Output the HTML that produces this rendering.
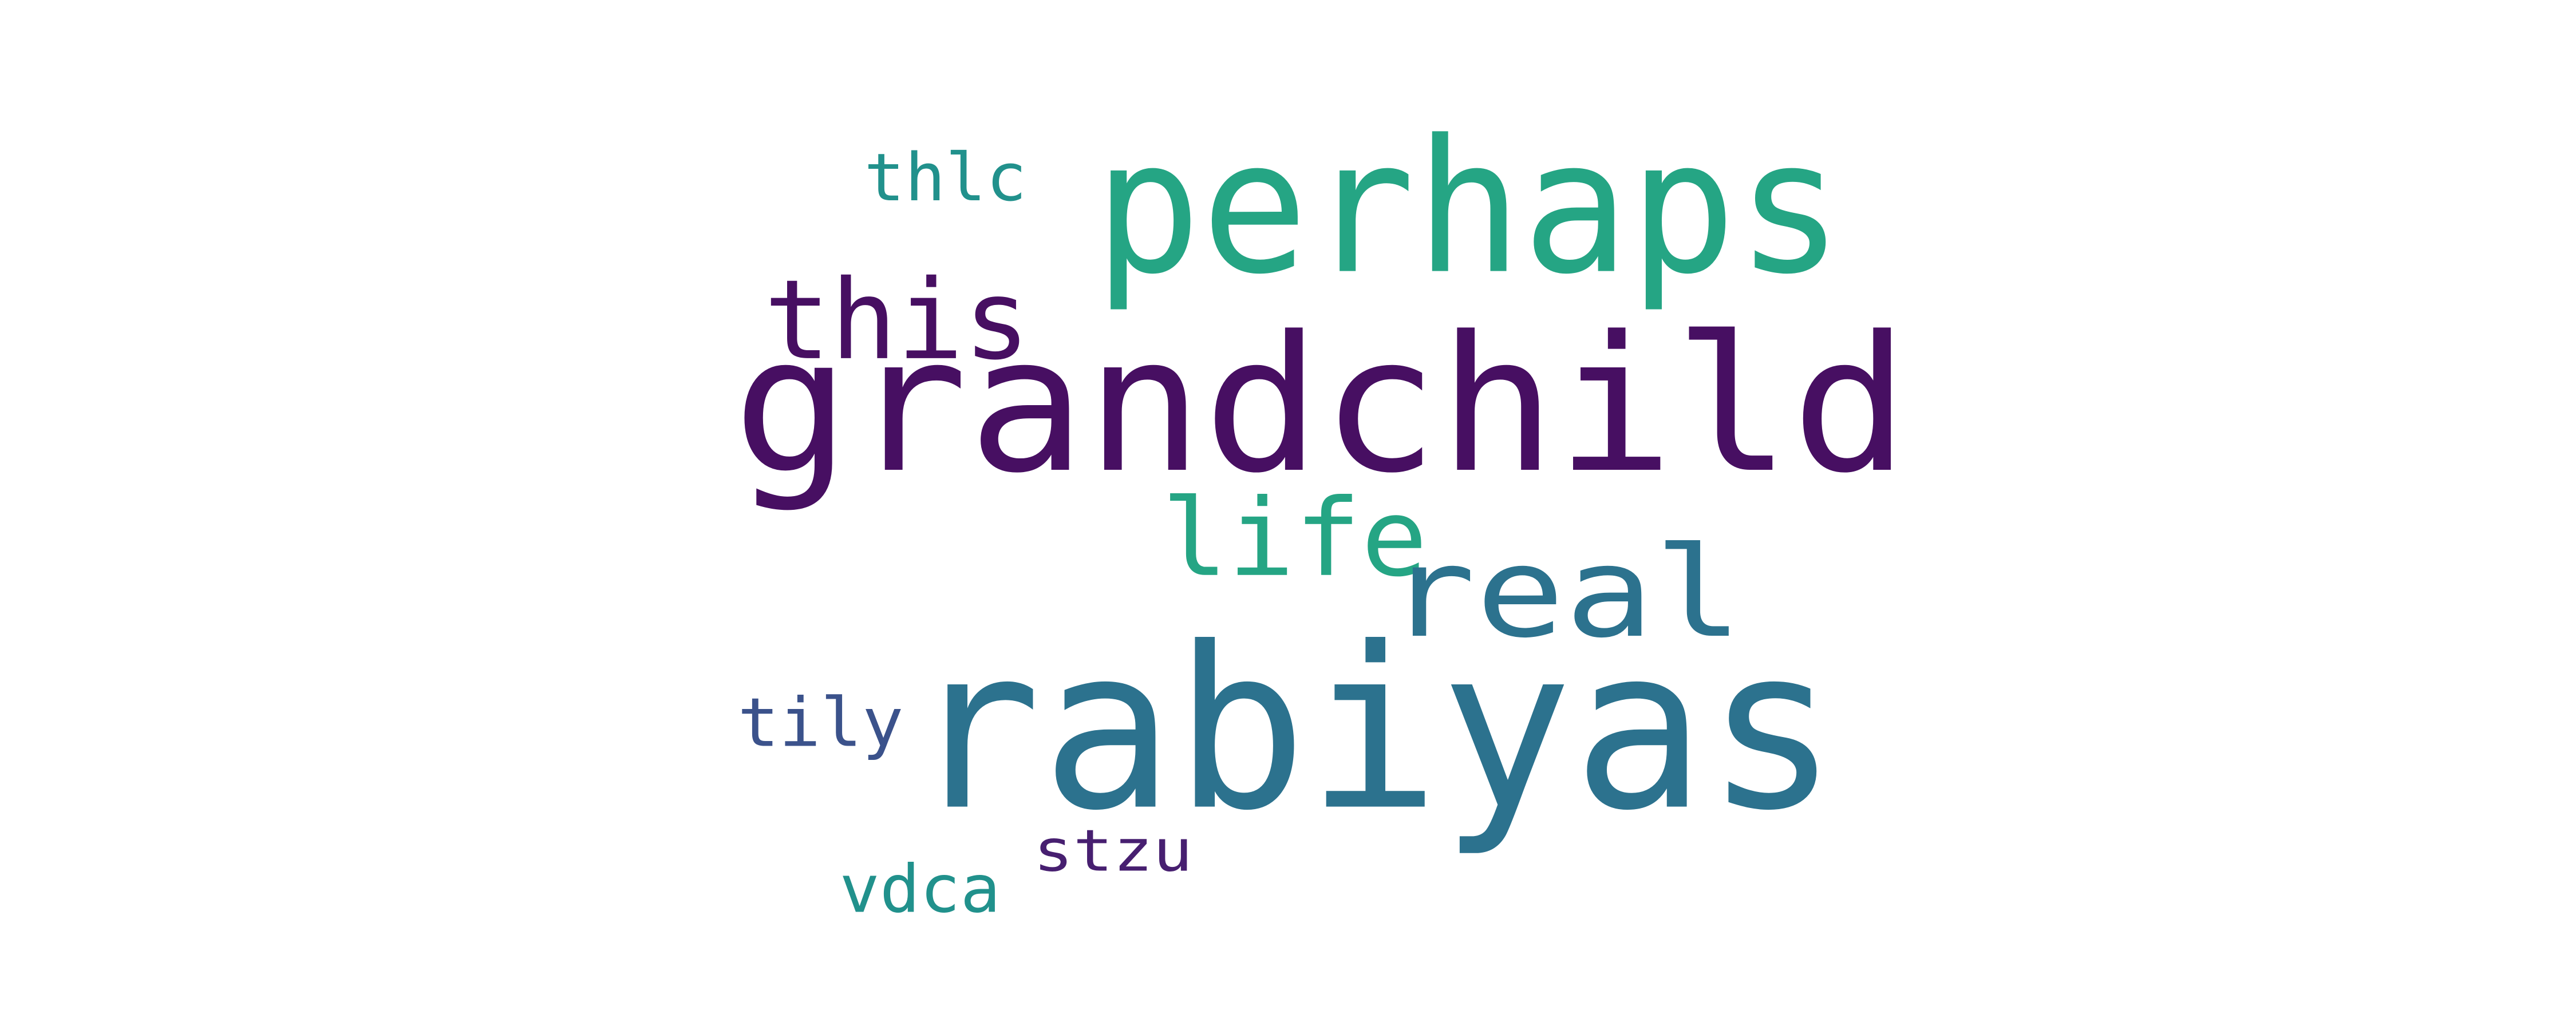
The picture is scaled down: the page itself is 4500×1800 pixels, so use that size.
<!DOCTYPE html>
<html>
<head>
<meta charset="utf-8">
<style>
  html,body{margin:0;padding:0;background:#fff;}
  svg{display:block;}
  text{font-family:"DejaVu Sans Mono","Liberation Mono",monospace;}
</style>
</head>
<body>
<svg width="4500" height="1800" viewBox="0 0 1568 627" preserveAspectRatio="none" xmlns="http://www.w3.org/2000/svg">
  <rect x="0" y="0" width="1568" height="627" fill="#ffffff"/>
  <g id="words"></g>
</svg>
<script>
const words = ["perhaps","grandchild","rabiyas","this","thlc","life","real","tily","stzu","vdca"];
const fontSizes = [112,114,136,67,40,65,76,41,35,40];
const colors = ["#25a584","#470f62","#2c728e","#470f62","#21918c","#25a584","#2c728e","#3b528b","#471f70","#21918c"];
const lefts = [666,446,553,465,526,707,844,449,629,511];
const baselines = [165,286,491,218,122,350,387,454,530,555];
const widths = [456,716,566,162,99,162,217,101,97,98];
const g = document.getElementById('words');
const NS = "http://www.w3.org/2000/svg";
for (let i = 0; i < words.length; i++) {
  const t = document.createElementNS(NS, 'text');
  
  
  t.setAttribute('x', lefts[i]);
  t.setAttribute('y', baselines[i]);
  t.setAttribute('font-size', fontSizes[i]);
  t.setAttribute('fill', colors[i]);
  t.setAttribute('textLength', widths[i]);
  t.setAttribute('lengthAdjust', 'spacingAndGlyphs');
  t.textContent = words[i];
  g.appendChild(t);
}
</script>
</body>
</html>
